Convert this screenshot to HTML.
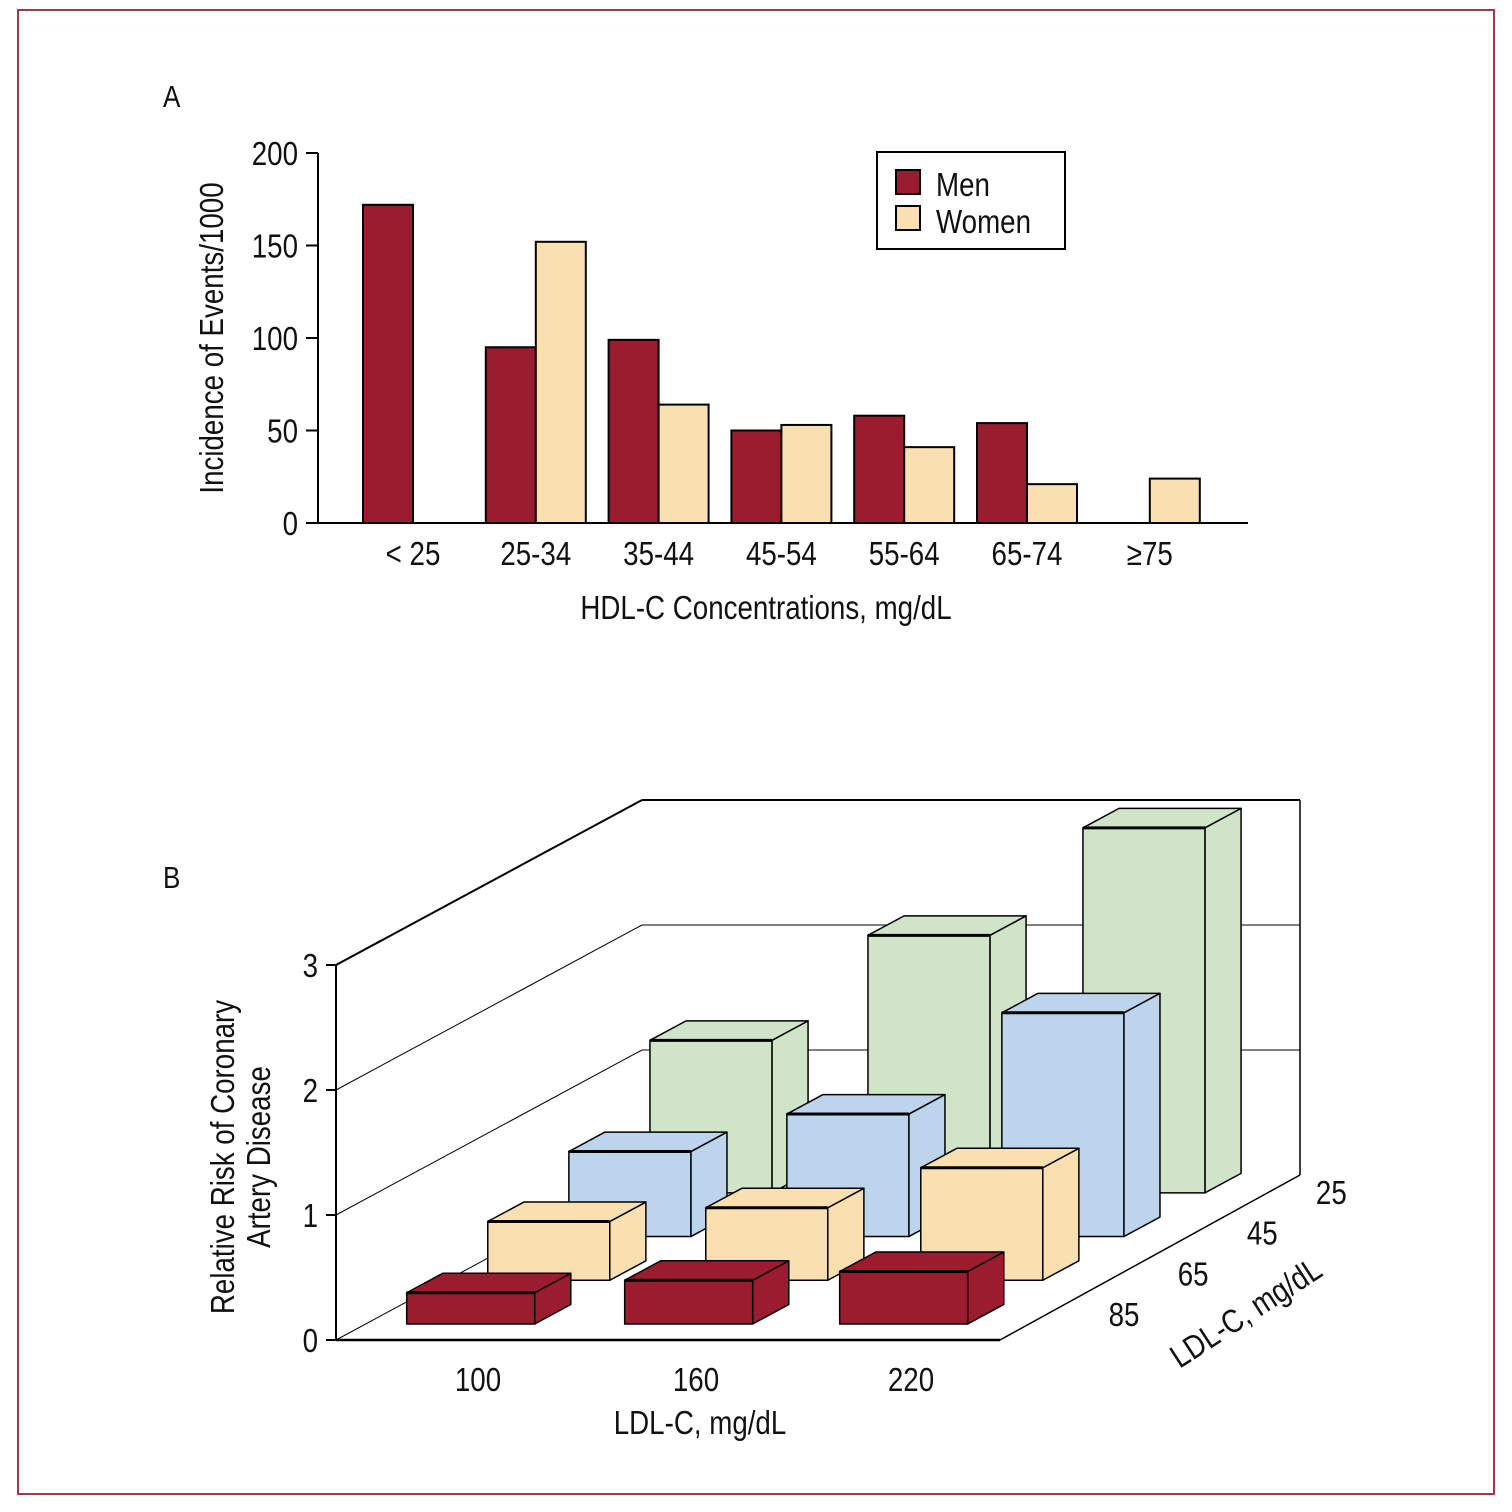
<!DOCTYPE html>
<html><head><meta charset="utf-8"><style>
html,body{margin:0;padding:0;background:#fff;}
svg{display:block;}
text{font-family:"Liberation Sans Narrow","Liberation Sans",sans-serif;fill:#111;}
</style></head><body>
<svg id="svg" width="1512" height="1512" viewBox="0 0 1512 1512" xmlns="http://www.w3.org/2000/svg">
<rect x="18" y="10" width="1476" height="1484" fill="#fff" stroke="#a0394a" stroke-width="2"/>
<g id="chartA"></g>
<g id="chartB"></g>
</svg>
<script>
// ---- Chart A data ----
const catsA = ["< 25","25-34","35-44","45-54","55-64","65-74","\u226575"];
const menA = [172, 95, 99, 50, 58, 54, null];
const womenA = [null, 152, 64, 53, 41, 21, 24];
const ticksA = [0, 50, 100, 150, 200];

// ---- Chart B data ----
const ldlCats = ["100","160","220"];
const hdlCats = ["85","65","45","25"];
const riskHdl85 = [0.25, 0.35, 0.42];
const riskHdl65 = [0.47, 0.58, 0.90];
const riskHdl45 = [0.68, 0.98, 1.79];
const riskHdl25 = [1.22, 2.06, 2.92];
const ticksB = [0, 1, 2, 3];

const NS = "http://www.w3.org/2000/svg";
function mk(parent, tag, attrs, txt){
  const e = document.createElementNS(NS, tag);
  for (const k in attrs) e.setAttribute(k, attrs[k]);
  if (txt !== undefined) e.textContent = txt;
  parent.appendChild(e);
  return e;
}
function mkT(parent, x, y, size, anchor, txt, rot){
  const tr = 'translate(' + x + ',' + y + ')' + (rot ? ' rotate(' + rot + ')' : '') + ' scale(0.84,1)';
  return mk(parent, 'text', {x:0, y:0, 'font-size':size, 'text-anchor':anchor, transform:tr}, txt);
}

// ===== Chart A =====
(function(){
  const g = document.getElementById('chartA');
  const x0 = 318, xEnd = 1248, yBase = 523, yTop = 153;
  const yS = v => yBase - v / 200 * (yBase - yTop);
  const groupC = i => 413 + i * 122.8;
  const bw = 50;
  let t = mkT(g, 163, 107, 31, 'start', 'A');
  
  
  let ax = mk(g, 'line', {x1:x0, y1:yTop, x2:x0, y2:yBase, stroke:'#000', 'stroke-width':2});
  
  
  ticksA.forEach(v => {
    const y = yS(v);
    const tk = mk(g, 'line', {x1:x0-12, y1:y, x2:x0, y2:y, stroke:'#000', 'stroke-width':2});
    
    
    const tl = mkT(g, 298, y+12, 33, 'end', String(v));
    
    
  });
  catsA.forEach((c, i) => {
    const cx = groupC(i);
    if (menA[i] != null) {
      const r = mk(g, 'rect', {x:cx-bw, y:yS(menA[i]), width:bw, height:yBase-yS(menA[i]), fill:'#9b1c2e', stroke:'#000', 'stroke-width':2});
      
      
    }
    if (womenA[i] != null) {
      const r = mk(g, 'rect', {x:cx, y:yS(womenA[i]), width:bw, height:yBase-yS(womenA[i]), fill:'#fadfb0', stroke:'#000', 'stroke-width':2});
      
      
    }
    const l = mkT(g, cx, 565, 33, 'middle', c);
    
    
  });
  let xa = mk(g, 'line', {x1:x0, y1:yBase, x2:xEnd, y2:yBase, stroke:'#000', 'stroke-width':2});
  
  
  let xt = mkT(g, 766, 619, 33, 'middle', 'HDL-C Concentrations, mg/dL');
  
  
  let yt = mkT(g, 223, 338, 33, 'middle', 'Incidence of Events/1000', -90);
  
  
  const lg = mk(g, 'g', {});
  
  
  mk(lg, 'rect', {x:877, y:152, width:188, height:97, fill:'#fff', stroke:'#000', 'stroke-width':2});
  const e1 = mk(lg, 'rect', {x:896, y:170, width:24, height:24, fill:'#9b1c2e', stroke:'#000', 'stroke-width':2});
  
  
  const t1 = mkT(lg, 936, 196, 33, 'start', 'Men');
  
  
  const e2 = mk(lg, 'rect', {x:896, y:206, width:24, height:24, fill:'#fadfb0', stroke:'#000', 'stroke-width':2});
  
  
  const t2 = mkT(lg, 936, 233, 33, 'start', 'Women');
  
  
})();

// ===== Chart B =====
(function(){
  const g = document.getElementById('chartB');
  const OX = 336, OY = 1340, DX = 306, DY = 165, VS = 125, FW = 664;
  const P = (x, d, v) => [OX + x + d * DX, OY - v * VS - d * DY];
  const pts = a => a.map(p => p.join(',')).join(' ');
  let t = mkT(g, 163, 888, 31, 'start', 'B');
  
  
  const ln = (a, b, w, name) => {
    const l = mk(g, 'line', {x1:a[0], y1:a[1], x2:b[0], y2:b[1], stroke:'#000', 'stroke-width':w});
    
    
  };
  ticksB.forEach(v => {
    if (v > 0) ln(P(0,0,v), P(0,1,v), v === 3 ? 2 : 1, 'left-wall-gridline');
    if (v > 0) ln(P(0,1,v), P(FW-6,1,v), v === 3 ? 2 : 1, 'back-wall-gridline');
  });
  ln(P(0,0,0), P(0,1,0), 1, 'left-wall-floor-edge');
  ln(P(FW-6,1,0), P(FW-6,1,3), 1.5, 'back-wall-right-edge');
  ln(P(FW,0,0), P(FW-6,1,0), 1.5, 'floor-right-edge');
  ln(P(0,0,0), P(0,0,3), 2, 'y-axis-b');
  ln(P(0,0,0), P(FW,0,0), 2.5, 'x-axis-b');
  ticksB.forEach(v => {
    const p = P(0,0,v);
    ln([p[0]-10, p[1]], p, 2, 'y-tick-b');
    const tl = mkT(g, 318, p[1]+12, 33, 'end', String(v));
    
    
  });
  const rows = [riskHdl25, riskHdl45, riskHdl65, riskHdl85];
  const rowDepth = [0.892, 0.627, 0.362, 0.097];
  const rowNames = ['25','45','65','85'];
  const colors = ['#d0e5c8', '#bcd4ec', '#fadfb0', '#9b1c2e'];
  const xs = [41, 259, 474];
  const bw = 122, bd = 0.118;
  rows.forEach((vals, r) => {
    const d = rowDepth[r];
    vals.forEach((v, c) => {
      const x = xs[c];
      const w = r === 3 ? 128 : bw;
      const bg = mk(g, 'g', {});
      
      
      const st = {stroke:'#000', 'stroke-width':1.5, 'stroke-linejoin':'round'};
      mk(bg, 'polygon', Object.assign({points:pts([P(x+w,d,0), P(x+w,d+bd,0), P(x+w,d+bd,v), P(x+w,d,v)]), fill:colors[r]}, st));
      mk(bg, 'polygon', Object.assign({points:pts([P(x,d,v), P(x+w,d,v), P(x+w,d+bd,v), P(x,d+bd,v)]), fill:colors[r]}, st));
      mk(bg, 'polygon', Object.assign({points:pts([P(x,d,0), P(x+w,d,0), P(x+w,d,v), P(x,d,v)]), fill:colors[r]}, st));
      const a = P(x,d,v), b = P(x+w,d,v);
      mk(bg, 'line', {x1:a[0], y1:a[1], x2:b[0], y2:b[1], stroke:'#000', 'stroke-width':3});
    });
  });
  ldlCats.forEach((c, i) => {
    const p = P(xs[i] + bw/2, 0, 0);
    const l = mkT(g, p[0]+40, 1391, 33, 'middle', c);
    
    
  });
  hdlCats.forEach((c, i) => {
    const d = [0.097, 0.362, 0.627, 0.892][i] + 0.06;
    const p = P(FW, d, 0);
    const l = mkT(g, p[0] + 76 - i*12, p[1] + 12 + i*3, 33, 'middle', c);
    
    
  });
  let dt = mkT(g, 1252, 1322, 33, 'middle', 'LDL-C, mg/dL', -33);
  
  
  let xt = mkT(g, 700, 1434, 33, 'middle', 'LDL-C, mg/dL');
  
  
  let yt1 = mkT(g, 234, 1157, 33, 'middle', 'Relative Risk of Coronary', -90);
  
  
  let yt2 = mkT(g, 270, 1157, 33, 'middle', 'Artery Disease', -90);
  
  
})();
</script>
</body></html>
